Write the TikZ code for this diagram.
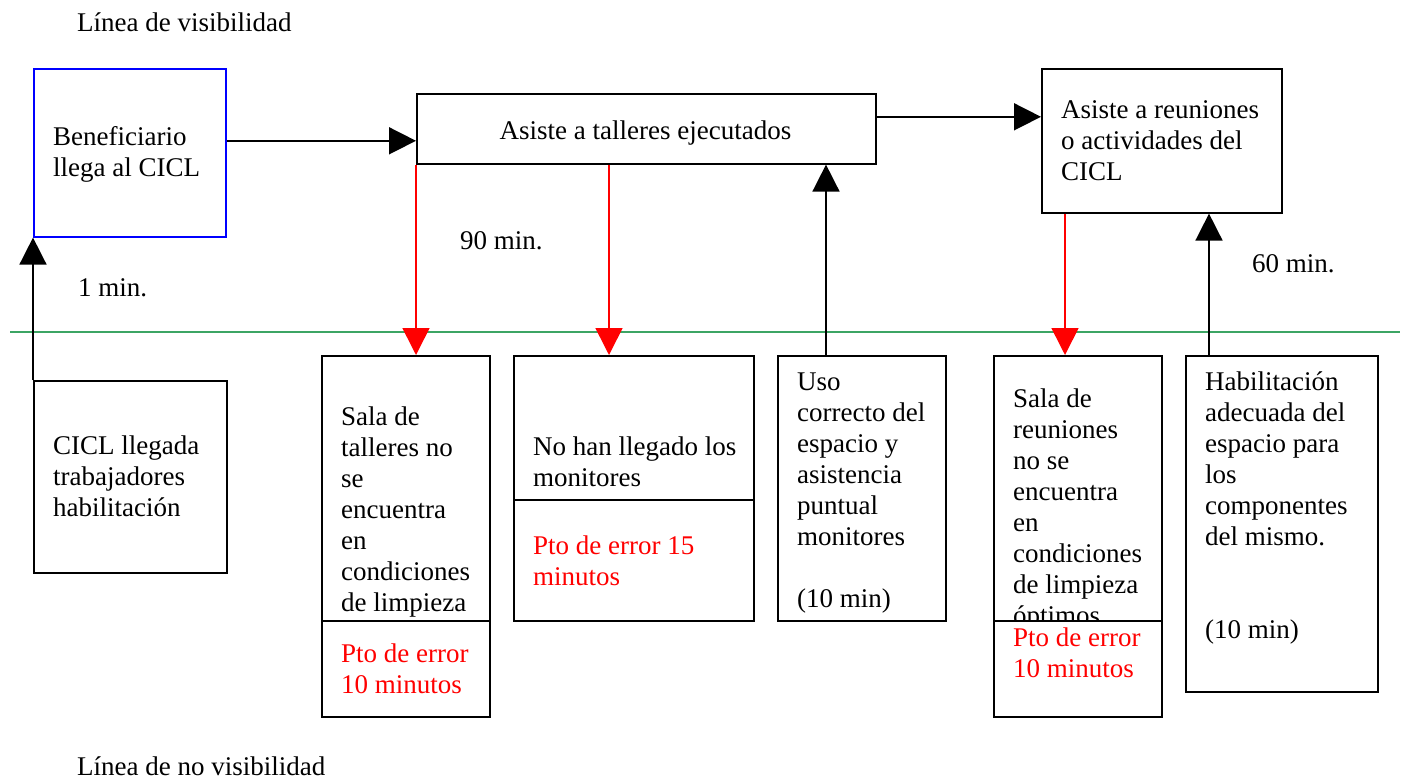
\documentclass[tikz,border=0pt]{standalone}
\usepackage{fontspec}
\setmainfont{Liberation Serif}
\usetikzlibrary{arrows.meta}
\definecolor{vgreen}{RGB}{60,165,100}
\tikzset{
  box/.style={draw=black, line width=1.6pt, rectangle, inner sep=0pt, anchor=north west},
  lowbox/.style={box, fill=white},
  txt/.style={anchor=north west, inner sep=0pt, align=left, font=\fontsize{27}{31}\selectfont},
  redtxt/.style={txt, text=red},
  lbl/.style={anchor=base west, inner sep=0pt, font=\fontsize{27}{31}\selectfont},
  arr/.style={line width=1.6pt, -{Triangle[length=27pt,width=27pt]}},
  redarr/.style={arr, draw=red}
}
\begin{document}
\begin{tikzpicture}[x=1pt,y=-1pt]
\useasboundingbox (0,0) rectangle (1408,779);
% visibility line
\coordinate (gl) at (10,332);
\coordinate (gr) at (1400,332);
\draw[vgreen, line width=1.6pt] (gl) -- (gr);
% labels
\node[lbl] (lvis) at (77,31) {Línea de visibilidad};
\node[lbl] (lnovis) at (77,775) {Línea de no visibilidad};
\node[lbl] (t1) at (78,296) {1 min.};
\node[lbl] (t90) at (460,249) {90 min.};
\node[lbl] (t60) at (1252,272) {60 min.};
% top boxes
\node[box, draw=blue, minimum width=192pt, minimum height=168pt] (benef) at (33,68) {};
\node[txt] (benefT) at (53,124) {\strut Beneficiario\\llega al CICL};
\node[box, minimum width=459pt, minimum height=70pt] (talleres) at (416,93) {};
\node[lbl, anchor=base] (talleresT) at (645.5,139) {Asiste a talleres ejecutados};
\node[box, minimum width=240pt, minimum height=144pt] (reun) at (1041,68) {};
\node[txt] (reunT) at (1061,97) {\strut Asiste a reuniones\\o actividades del\\CICL};
% bottom boxes
\node[box, minimum width=193pt, minimum height=192pt] (cicl) at (33,380) {};
\node[txt] (ciclT) at (53,433) {\strut CICL llegada\\trabajadores\\habilitación};
\node[box, minimum width=168pt, minimum height=361pt] (sala1) at (321,355) {};
\node[txt] (sala1T) at (341,404) {\strut Sala de\\talleres no\\se\\encuentra\\en\\condiciones\\de limpieza};
\node[lowbox, minimum width=168pt, minimum height=96pt] (sala1L) at (321,620) {};
\node[redtxt] (sala1E) at (341,641) {\strut Pto de error\\10 minutos};
\node[box, minimum width=240pt, minimum height=265pt] (monit) at (513,355) {};
\node[txt] (monitT) at (533,434) {\strut No han llegado los\\monitores};
\node[lowbox, minimum width=240pt, minimum height=121pt] (monitL) at (513,499) {};
\node[redtxt] (monitE) at (533,533) {\strut Pto de error 15\\minutos};
\node[box, minimum width=168pt, minimum height=265pt] (uso) at (777,355) {};
\node[txt] (usoT) at (797,369) {\strut Uso\\correcto del\\espacio y\\asistencia\\puntual\\monitores\\[31pt](10 min)};
\node[box, minimum width=168pt, minimum height=361pt] (sala2) at (993,355) {};
\node[txt] (sala2T) at (1013,386) {\strut Sala de\\reuniones\\no se\\encuentra\\en\\condiciones\\de limpieza\\óptimos};
\node[lowbox, minimum width=168pt, minimum height=96pt] (sala2L) at (993,620) {};
\node[redtxt] (sala2E) at (1013,625) {\strut Pto de error\\10 minutos};
\node[box, minimum width=192pt, minimum height=336pt] (habil) at (1185,355) {};
\node[txt] (habilT) at (1205,369) {\strut Habilitación\\adecuada del\\espacio para\\los\\componentes\\del mismo.\\[62pt](10 min)};
% connectors
\draw[arr] (cicl.north west) -- (benef.south west);
\draw[arr] ([yshift=12pt]benef.east) -- ([yshift=12pt]benef.east -| talleres.west);
\draw[arr] ([yshift=12pt]talleres.east) -- ([yshift=12pt]talleres.east -| reun.west);
\draw[redarr] (talleres.south west) -- (talleres.south west |- sala1.north);
\draw[redarr] ([xshift=193pt]talleres.south west) -- ([xshift=193pt]talleres.south west |- monit.north);
\draw[arr] ([xshift=49pt]uso.north west) -- ([xshift=49pt]uso.north west |- talleres.south);
\draw[redarr] ([xshift=24pt]reun.south west) -- ([xshift=24pt]reun.south west |- sala2.north);
\draw[arr] ([xshift=24pt]habil.north west) -- ([xshift=24pt]habil.north west |- reun.south);
\end{tikzpicture}
\end{document}
